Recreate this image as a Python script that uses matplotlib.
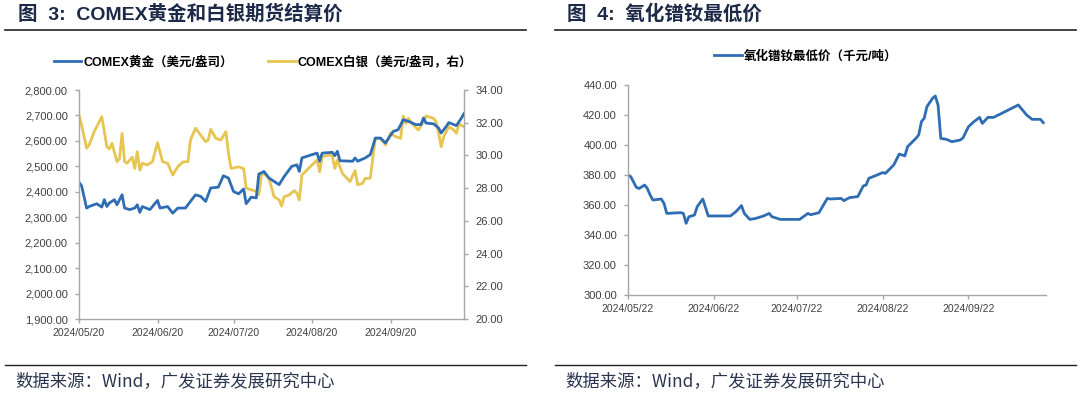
import matplotlib
matplotlib.use("Agg")
import matplotlib.pyplot as plt
from matplotlib.ticker import FuncFormatter, MultipleLocator
from matplotlib.lines import Line2D
import pandas as pd

# ---------------- data ----------------
gold_start = "2024-05-20"
gold_days = [0, 1, 3, 4, 7, 9, 10, 11, 12, 14, 15, 17, 18, 20, 22, 23, 24, 25, 28, 31,
             32, 35, 37, 39, 42, 46, 48, 50, 52, 55, 57, 59, 61, 63, 65, 66, 68, 70, 71, 72,
             73, 75, 79, 81, 84, 86, 87, 88, 92, 94, 95, 96, 100, 101, 102, 103, 108, 109, 110, 113,
             115, 117, 119, 121, 124, 126, 128, 130, 133, 135, 136, 137, 140, 142, 143, 145, 146, 149, 151, 152]
gold_vals = [2437, 2424, 2336, 2342, 2353, 2340, 2369, 2342, 2356, 2369, 2349, 2388, 2336, 2330, 2336, 2349, 2319, 2342, 2330, 2366,
             2336, 2342, 2316, 2336, 2336, 2388, 2382, 2362, 2415, 2418, 2463, 2454, 2401, 2392, 2411, 2353, 2379, 2376, 2470, 2474,
             2480, 2454, 2428, 2460, 2500, 2506, 2480, 2533, 2546, 2552, 2520, 2552, 2555, 2542, 2559, 2522, 2520, 2533, 2520, 2533,
             2546, 2611, 2611, 2592, 2637, 2644, 2683, 2677, 2664, 2664, 2690, 2670, 2667, 2650, 2631, 2657, 2672, 2660, 2690, 2707]

silver_days = [0, 1, 3, 4, 6, 9, 11, 12, 13, 15, 16, 17, 18, 19, 21, 22, 23, 24, 25, 27,
               29, 31, 33, 35, 37, 39, 41, 43, 44, 46, 48, 50, 51, 52, 54, 56, 58, 59, 60, 63,
               65, 66, 68, 70, 71, 72, 73, 75, 77, 79, 80, 81, 83, 85, 86, 87, 88, 92, 94, 95,
               96, 99, 100, 101, 102, 104, 107, 109, 110, 112, 113, 115, 117, 119, 121, 123, 125, 127, 128, 129,
               130, 132, 134, 136, 137, 140, 141, 142, 143, 144, 146, 148, 149, 150, 152]
silver_vals = [32.47, 31.86, 30.44, 30.64, 31.45, 32.37, 30.53, 30.40, 30.74, 29.62, 29.80, 31.35, 29.62, 29.52, 29.90, 29.20, 30.23, 29.10, 29.52, 29.42,
               29.62, 30.78, 29.62, 29.52, 28.80, 29.31, 29.60, 29.62, 30.94, 31.66, 31.25, 30.84, 30.94, 31.60, 31.05, 30.94, 31.45, 30.13, 29.20, 29.30,
               29.20, 28.00, 27.90, 27.80, 27.60, 28.80, 28.90, 28.60, 27.48, 27.28, 26.90, 27.48, 27.58, 27.85, 27.70, 27.28, 28.80, 29.42, 29.72, 29.00,
               29.92, 30.03, 29.95, 29.20, 29.72, 28.90, 28.40, 29.07, 28.20, 28.30, 28.60, 28.60, 31.05, 31.05, 30.64, 31.35, 31.15, 31.05, 32.41, 31.96,
               32.27, 31.86, 31.55, 32.06, 32.41, 32.27, 32.06, 31.35, 30.53, 31.15, 31.76, 31.55, 31.35, 31.92, 31.76]

prnd_start = "2024-05-22"
prnd_days = [0, 1, 3, 4, 6, 7, 8, 9, 12, 13, 14, 19, 20, 21, 22, 24, 25, 27, 29, 32,
             37, 39, 41, 42, 44, 46, 49, 51, 52, 55, 62, 65, 66, 69, 72, 73, 77, 78, 80, 83,
             85, 86, 87, 90, 92, 93, 96, 98, 100, 101, 104, 105, 106, 107, 108, 110, 111, 112, 113, 115,
             117, 120, 121, 123, 125, 127, 128, 130, 132, 135, 141, 144, 146, 149, 150]
prnd_vals = [380.0, 378.9, 371.8, 371.0, 373.3, 371.0, 366.7, 363.3, 364.0, 361.1, 354.4, 354.9, 354.4, 347.8, 352.2, 353.3, 358.9, 364.0, 352.7, 352.7,
             352.7, 355.6, 359.6, 354.4, 350.4, 351.0, 352.7, 354.4, 352.2, 350.4, 350.4, 354.4, 353.5, 354.9, 364.4, 364.0, 364.4, 362.9, 364.9, 365.6,
             372.7, 373.3, 377.8, 380.0, 381.6, 381.1, 386.7, 394.0, 392.7, 398.9, 404.4, 406.7, 415.6, 417.8, 425.6, 431.1, 432.7, 426.7, 404.4, 403.8,
             402.2, 403.3, 404.7, 412.2, 415.6, 418.4, 414.4, 418.4, 418.4, 421.1, 426.7, 420.0, 417.1, 417.1, 414.9]

left_xticks = ["2024/05/20", "2024/06/20", "2024/07/20", "2024/08/20", "2024/09/20"]
right_xticks = ["2024/05/22", "2024/06/22", "2024/07/22", "2024/08/22", "2024/09/22"]

title_left = "图  3:  COMEX黄金和白银期货结算价"
title_right = "图  4:  氧化镨钕最低价"
label_gold = "COMEX黄金（美元/盎司）"
label_silver = "COMEX白银（美元/盎司，右）"
label_prnd = "氧化镨钕最低价（千元/吨）"
source = "数据来源：Wind，广发证券发展研究中心"

# ---------------- style ----------------
BLUE = "#2e6db4"
GOLD = "#e6c551"
NAVY = "#1c2a48"
SPINE = "#a6a6a6"
TICKC = "#404040"
FAM = ["Liberation Sans", "Noto Sans CJK SC"]
plt.rcParams["font.family"] = FAM

fig = plt.figure(figsize=(10.8, 3.93), dpi=100)

g_dates = pd.Timestamp(gold_start) + pd.to_timedelta(gold_days, unit="D")
s_dates = pd.Timestamp(gold_start) + pd.to_timedelta(silver_days, unit="D")
p_dates = pd.Timestamp(prnd_start) + pd.to_timedelta(prnd_days, unit="D")

def style_axis(ax, right=False):
    ax.spines["top"].set_visible(False)
    if not right:
        ax.spines["right"].set_visible(False)
    for s in ["left", "bottom", "right"]:
        ax.spines[s].set_color(SPINE)
        ax.spines[s].set_linewidth(1.0)
    ax.tick_params(axis="both", colors=SPINE, labelcolor=TICKC, labelsize=7.5,
                   length=3, width=1, direction="out")
    ax.tick_params(axis="y", labelsize=8, pad=5)

fmt2 = FuncFormatter(lambda v, p: f"{v:,.2f}")

# ---- left chart ----
ax1 = fig.add_axes([79/1080, 1-319/393, 385/1080, (319-90)/393])
ax1.plot(g_dates, gold_vals, color=BLUE, lw=2.0, solid_joinstyle="round")
ax1.set_ylim(1900, 2800)
ax1.yaxis.set_major_locator(MultipleLocator(100))
ax1.yaxis.set_major_formatter(fmt2)
ax2 = ax1.twinx()
ax2.plot(s_dates, silver_vals, color=GOLD, lw=2.0, solid_joinstyle="round")
ax2.set_ylim(20, 34)
ax2.yaxis.set_major_locator(MultipleLocator(2))
ax2.yaxis.set_major_formatter(fmt2)
ax1.set_zorder(ax2.get_zorder() + 1)
ax1.patch.set_visible(False)
x0 = pd.Timestamp(gold_start)
ax1.set_xlim(x0, x0 + pd.Timedelta(days=152))
ax1.set_xticks([pd.Timestamp(t.replace("/", "-")) for t in left_xticks])
ax1.set_xticklabels(left_xticks)
style_axis(ax1)
style_axis(ax2, right=True)
ax2.spines["left"].set_visible(False)
ax2.spines["bottom"].set_visible(False)

leg1 = [Line2D([0], [0], color=BLUE, lw=2.0), Line2D([0], [0], color=GOLD, lw=2.0)]
fig.legend(leg1, [label_gold, label_silver], loc="center", bbox_to_anchor=(263/1080, 1-62/393),
           ncol=2, frameon=False, handlelength=2.2, handletextpad=0.2, columnspacing=2.8,
           prop={"family": FAM, "weight": "bold", "size": 9})

# ---- right chart ----
ax3 = fig.add_axes([628/1080, 1-295/393, 418/1080, (295-85)/393])
ax3.plot(p_dates, prnd_vals, color=BLUE, lw=2.0, solid_joinstyle="round")
ax3.set_ylim(300, 440)
ax3.yaxis.set_major_locator(MultipleLocator(20))
ax3.yaxis.set_major_formatter(fmt2)
x1 = pd.Timestamp(prnd_start)
ax3.set_xlim(x1, x1 + pd.Timedelta(days=151))
ax3.set_xticks([pd.Timestamp(t.replace("/", "-")) for t in right_xticks])
ax3.set_xticklabels(right_xticks)
style_axis(ax3)

fig.legend([Line2D([0], [0], color=BLUE, lw=2.0)], [label_prnd], loc="center",
           bbox_to_anchor=(806/1080, 1-56/393), frameon=False, handlelength=2.2, handletextpad=0.2,
           prop={"family": FAM, "weight": "bold", "size": 9})

# ---- titles, rules, sources ----
for xl, t in [(18, title_left), (567, title_right)]:
    fig.text(xl/1080, 1-14/393, t, ha="left", va="center", fontsize=14, fontweight="bold",
             color=NAVY, family=FAM)
for xa, xb in [(5, 526), (555, 1076)]:
    fig.add_artist(Line2D([xa/1080, xb/1080], [1-30/393, 1-30/393], color="#222222", lw=1.2))
    fig.add_artist(Line2D([xa/1080, xb/1080], [1-365/393, 1-365/393], color="#222222", lw=1.0))
for xl in [15, 565]:
    fig.text(xl/1080, 1-381/393, source, ha="left", va="center", fontsize=12.5,
             color="#2b3550", family=["Noto Sans CJK SC"])

fig.savefig("out.png", dpi=100)
